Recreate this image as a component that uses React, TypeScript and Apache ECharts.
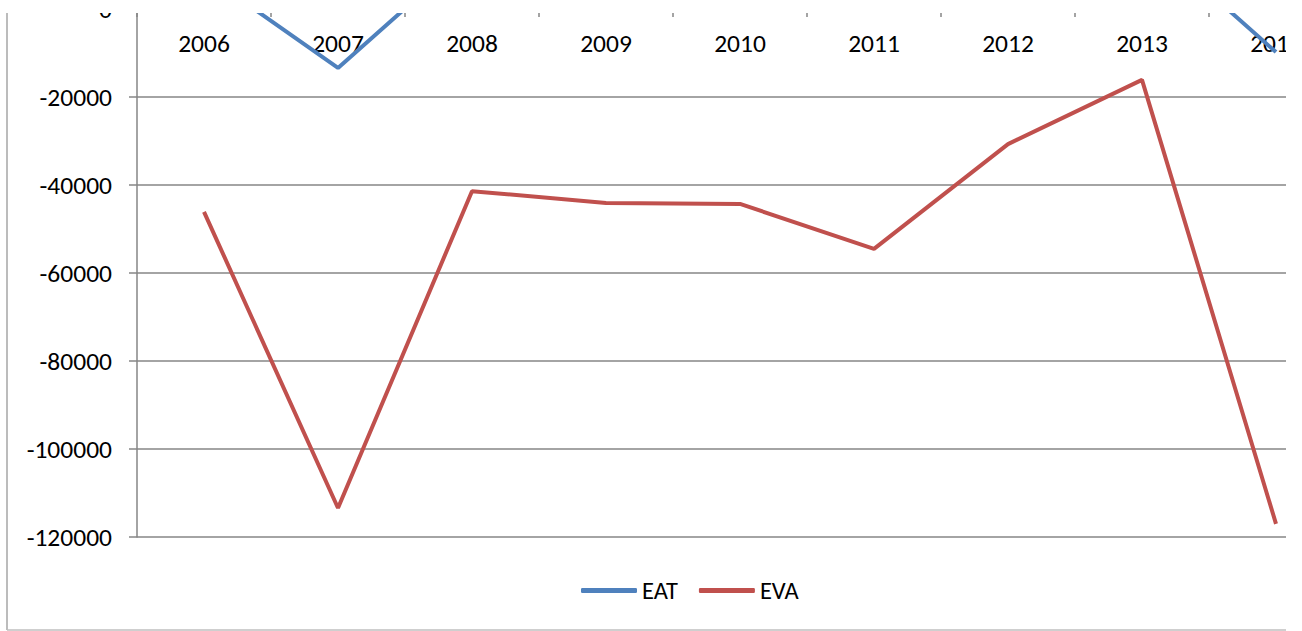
import React, { useEffect, useRef } from "react";
import * as echarts from "echarts";

const years = ["2006", "2007", "2008", "2009", "2010", "2011", "2012", "2013", "2014"];
const eatValues = [8000, -13400, 13600, 10000, 12000, 6000, 15000, 17200, -9800];
const evaValues = [-46100, -113400, -41400, -44100, -44300, -54500, -30700, -16100, -117000];
const seriesNames = ["EAT", "EVA"];
const seriesColors = ["#4F81BD", "#C0504D"];

const FONT = "Carlito, Calibri, 'Liberation Sans', sans-serif";
// chart canvas is offset 200px above the visible page area (the reference is a cropped chart)
const OFF = 200;

export default function App() {
  const ref = useRef<HTMLDivElement>(null);
  useEffect(() => {
    if (!ref.current) return;
    const chart = echarts.init(ref.current, undefined, { renderer: "svg" });
    chart.setOption({
      animation: false,
      backgroundColor: "#ffffff",
      grid: { left: 137, right: 57, top: 33, bottom: 94, containLabel: false },
      xAxis: {
        type: "category",
        data: years,
        boundaryGap: true,
        position: "bottom",
        offset: -528,
        axisLine: { onZero: false, lineStyle: { color: "#868686", width: 1.5 } },
        axisTick: { show: true, length: 8, lineStyle: { color: "#868686", width: 1.5 } },
        axisLabel: { color: "#000", fontSize: 25.5, fontFamily: FONT, margin: 21 },
        splitLine: { show: false },
      },
      yAxis: {
        type: "value",
        min: -120000,
        max: 40000,
        interval: 20000,
        axisLine: { show: true, lineStyle: { color: "#868686", width: 1.5 } },
        axisTick: { show: true, length: 8, lineStyle: { color: "#868686", width: 1.5 } },
        axisLabel: {
          color: "#000",
          fontSize: 25.5,
          fontFamily: FONT,
          margin: 25,
          formatter: (v: number) => String(v),
        },
        splitLine: { show: true, lineStyle: { color: "#868686", width: 1.5 } },
      },
      legend: {
        data: seriesNames,
        left: 576,
        top: 773,
        icon: "roundRect",
        itemWidth: 56,
        itemHeight: 5,
        itemGap: 21,
        textStyle: { color: "#000", fontSize: 24.5, fontFamily: FONT },
      },
      series: [
        {
          name: seriesNames[0],
          type: "line",
          data: eatValues,
          symbol: "none",
          lineStyle: { color: seriesColors[0], width: 4 },
          itemStyle: { color: seriesColors[0] },
          clip: true,
        },
        {
          name: seriesNames[1],
          type: "line",
          data: evaValues,
          symbol: "none",
          lineStyle: { color: seriesColors[1], width: 4 },
          itemStyle: { color: seriesColors[1] },
          clip: true,
        },
      ],
      graphic: [
        { type: "line", z: 101, shape: { x1: 7, y1: 13 + OFF, x2: 7, y2: 630 + OFF }, style: { stroke: "#a6a6a6", lineWidth: 1.5 } },
        { type: "line", z: 101, shape: { x1: 7, y1: 630 + OFF, x2: 1286, y2: 630 + OFF }, style: { stroke: "#bfbfbf", lineWidth: 1.5 } },
      ],
    });
    return () => chart.dispose();
  }, []);
  return (
    <div style={{ position: "absolute", left: 0, top: 0, width: 1302, height: 631, background: "#fff" }}>
      <div style={{ position: "absolute", left: 0, top: 13, width: 1286, height: 618, overflow: "hidden" }}>
        <div
          ref={ref}
          style={{ position: "absolute", left: 0, top: -13 - OFF, width: 1400, height: 631 + OFF }}
        />
      </div>
    </div>
  );
}
